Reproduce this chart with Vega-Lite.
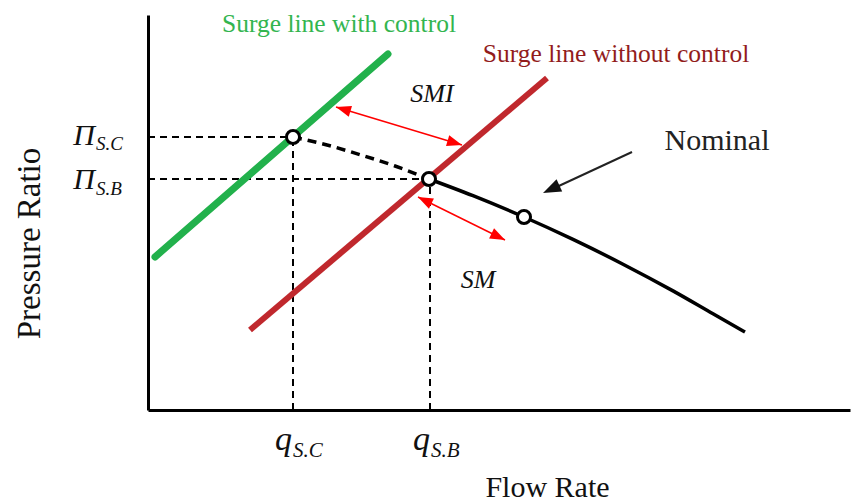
{
  "$schema": "https://vega.github.io/schema/vega-lite/v6.json",
  "width": 702,
  "height": 395,
  "autosize": {"type": "none"},
  "padding": {"left": 148, "top": 15, "right": 1, "bottom": 93},
  "background": "white",
  "config": {
    "view": {"stroke": null},
    "axis": {"grid": false, "ticks": false, "labels": false, "domainColor": "black", "domainWidth": 3,
             "titleFont": "Liberation Serif", "titleFontWeight": "normal", "titleColor": "#111"}
  },
  "encoding": {
    "x": {"field": "x", "type": "quantitative", "scale": {"domain": [0, 702], "nice": false, "zero": false},
          "axis": {"title": "Flow Rate", "titleFontSize": 30, "titleX": 399, "titleY": 86, "titleBaseline": "alphabetic", "titleAlign": "center"}},
    "y": {"field": "y", "type": "quantitative", "scale": {"domain": [0, 395], "nice": false, "zero": false},
          "axis": {"title": "Pressure Ratio", "titleFontSize": 33, "titleX": -109, "titleY": 228, "titleBaseline": "alphabetic", "titleAlign": "center", "titleAngle": -90}}
  },
  "layer": [
    {
      "data": {"values": [
        {"x": 0, "y": 273, "x2": 145, "y2": 273},
        {"x": 0, "y": 231, "x2": 282, "y2": 231},
        {"x": 145, "y": 0, "x2": 145, "y2": 273},
        {"x": 282, "y": 0, "x2": 282, "y2": 231}
      ]},
      "mark": {"type": "rule", "color": "black", "strokeWidth": 2, "strokeDash": [7, 5]},
      "encoding": {"x2": {"field": "x2"}, "y2": {"field": "y2"}}
    },
    {
      "data": {"values": [{"x": 7, "y": 153}, {"x": 240, "y": 356}]},
      "mark": {"type": "line", "color": "#22b14c", "strokeWidth": 7, "strokeCap": "round"}
    },
    {
      "data": {"values": [{"x": 102, "y": 80}, {"x": 399, "y": 332}]},
      "mark": {"type": "line", "color": "#c0282d", "strokeWidth": 6, "strokeCap": "butt"}
    },
    {
      "data": {"values": [
        {"x": 145, "y": 273}, {"x": 179, "y": 265}, {"x": 213, "y": 255}, {"x": 247, "y": 244}, {"x": 281, "y": 231}
      ]},
      "mark": {"type": "line", "color": "black", "strokeWidth": 3.5, "strokeDash": [9, 6], "interpolate": "monotone"}
    },
    {
      "data": {"values": [
        {"x": 281, "y": 231}, {"x": 325, "y": 214.3}, {"x": 376, "y": 193}, {"x": 425, "y": 170.6},
        {"x": 475, "y": 145.8}, {"x": 525, "y": 119.1}, {"x": 565, "y": 96.2}, {"x": 597, "y": 78}
      ]},
      "mark": {"type": "line", "color": "black", "strokeWidth": 3.5, "interpolate": "monotone"}
    },
    {
      "data": {"values": [
        {"x": 188, "y": 303, "x2": 314, "y2": 265},
        {"x": 270, "y": 213, "x2": 357, "y2": 170}
      ]},
      "mark": {"type": "rule", "color": "#ff0000", "strokeWidth": 1.5},
      "encoding": {"x2": {"field": "x2"}, "y2": {"field": "y2"}}
    },
    {
      "data": {"values": [
        {"x": 306.8, "y": 267.2, "angle": 106.8},
        {"x": 195.2, "y": 300.8, "angle": 286.8},
        {"x": 350.3, "y": 173.3, "angle": 116.3},
        {"x": 276.7, "y": 209.7, "angle": 296.3}
      ]},
      "mark": {"type": "point", "shape": "M0,-1L-0.75,1L0.75,1Z", "size": 225, "filled": true, "color": "#ff0000", "opacity": 1, "strokeWidth": 0},
      "encoding": {"angle": {"field": "angle", "type": "quantitative", "scale": null}}
    },
    {
      "data": {"values": [{"x": 484, "y": 258, "x2": 400, "y2": 219}]},
      "mark": {"type": "rule", "color": "#222", "strokeWidth": 2},
      "encoding": {"x2": {"field": "x2"}, "y2": {"field": "y2"}}
    },
    {
      "data": {"values": [{"x": 403.2, "y": 220.8, "angle": 245.3}]},
      "mark": {"type": "point", "shape": "M0,-1L-0.75,1L0.75,1Z", "size": 324, "filled": true, "color": "#111", "opacity": 1, "strokeWidth": 0},
      "encoding": {"angle": {"field": "angle", "type": "quantitative", "scale": null}}
    },
    {
      "data": {"values": [{"x": 145, "y": 273}, {"x": 281, "y": 231}, {"x": 376, "y": 193}]},
      "mark": {"type": "point", "shape": "circle", "size": 170, "filled": false, "fill": "white", "fillOpacity": 1, "stroke": "black", "strokeWidth": 3, "opacity": 1}
    },
    {
      "data": {"values": [{"x": 191, "y": 378, "text": "Surge line with control"}]},
      "mark": {"type": "text", "font": "Liberation Serif", "fontSize": 25.5, "color": "#33b54f", "align": "center", "baseline": "alphabetic"},
      "encoding": {"text": {"field": "text"}}
    },
    {
      "data": {"values": [{"x": 468, "y": 348, "text": "Surge line without control"}]},
      "mark": {"type": "text", "font": "Liberation Serif", "fontSize": 25.5, "color": "#921c1c", "align": "center", "baseline": "alphabetic"},
      "encoding": {"text": {"field": "text"}}
    },
    {
      "data": {"values": [{"x": 284, "y": 308, "text": "SMI"}, {"x": 330, "y": 122, "text": "SM"}]},
      "mark": {"type": "text", "font": "Liberation Serif", "fontStyle": "italic", "fontSize": 26, "color": "#111", "align": "center", "baseline": "alphabetic"},
      "encoding": {"text": {"field": "text"}}
    },
    {
      "data": {"values": [{"x": 569, "y": 260, "text": "Nominal"}]},
      "mark": {"type": "text", "font": "Liberation Serif", "fontSize": 30, "color": "#222", "align": "center", "baseline": "alphabetic"},
      "encoding": {"text": {"field": "text"}}
    },
    {
      "data": {"values": [{"x": -53, "y": 265, "text": "Π"}, {"x": -53, "y": 221, "text": "Π"}]},
      "mark": {"type": "text", "font": "Liberation Serif", "fontStyle": "italic", "fontSize": 30, "color": "#111", "align": "right", "baseline": "alphabetic"},
      "encoding": {"text": {"field": "text"}}
    },
    {
      "data": {"values": [{"x": -52, "y": 260, "text": "S.C"}, {"x": -52, "y": 215, "text": "S.B"}]},
      "mark": {"type": "text", "font": "Liberation Serif", "fontStyle": "italic", "fontSize": 19, "color": "#111", "align": "left", "baseline": "alphabetic"},
      "encoding": {"text": {"field": "text"}}
    },
    {
      "data": {"values": [{"x": 144, "y": -40, "text": "q"}, {"x": 282, "y": -40, "text": "q"}]},
      "mark": {"type": "text", "font": "Liberation Serif", "fontStyle": "italic", "fontSize": 34, "color": "#111", "align": "right", "baseline": "alphabetic"},
      "encoding": {"text": {"field": "text"}}
    },
    {
      "data": {"values": [{"x": 145, "y": -47, "text": "S.C"}, {"x": 283, "y": -47, "text": "S.B"}]},
      "mark": {"type": "text", "font": "Liberation Serif", "fontStyle": "italic", "fontSize": 21, "color": "#111", "align": "left", "baseline": "alphabetic"},
      "encoding": {"text": {"field": "text"}}
    }
  ]
}
